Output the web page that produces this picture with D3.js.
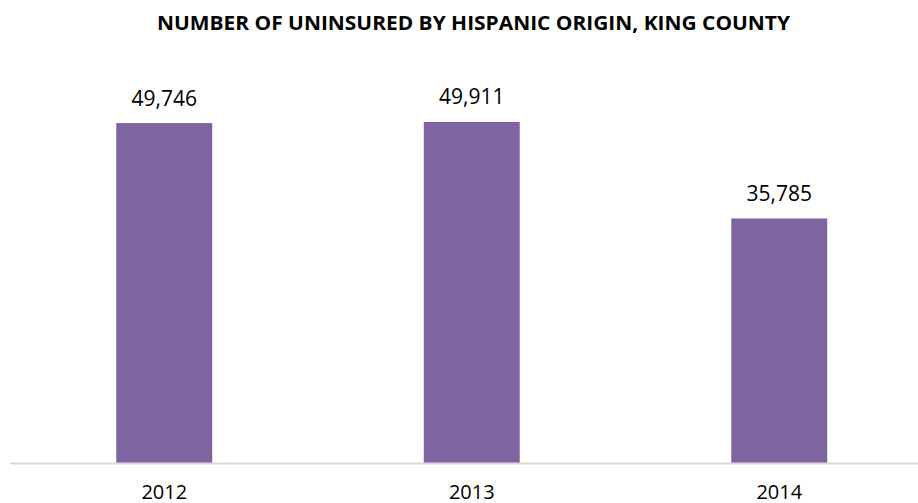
<!DOCTYPE html>
<html lang="en">
<head>
<meta charset="UTF-8">
<title>Uninsured by Hispanic origin</title>
<script src="https://cdnjs.cloudflare.com/ajax/libs/d3/7.8.5/d3.min.js"></script>
<style>
  body { margin: 0; background: #fff; }
</style>
</head>
<body>
<svg id="chart"></svg>
<script>
var years = ["2012", "2013", "2014"]
var uninsured = [49746, 49911, 35785]

var W = 918, H = 503
var baseY = 463
var font = "'Open Sans', sans-serif"

var svg = d3.select("#chart")
  .attr("width", W)
  .attr("height", H)

var x = d3.scaleBand()
  .domain(years)
  .range([10.5, 933])
  .paddingInner(0.688)
  .paddingOuter(0.344)

var y = d3.scaleLinear()
  .domain([0, 60000])
  .range([baseY, baseY - 410])

// title spans roughly x 157..790 in the reference
svg.append("text")
  .attr("x", 473.5)
  .attr("y", 29.5)
  .attr("text-anchor", "middle")
  .attr("font-family", font)
  .attr("font-weight", "bold")
  .attr("font-size", "19.5px")
  .attr("fill", "#000")
  .attr("textLength", 633)
  .attr("lengthAdjust", "spacingAndGlyphs")
  .text("NUMBER OF UNINSURED BY HISPANIC ORIGIN, KING COUNTY")

svg.selectAll("rect.bar")
  .data(years).enter()
  .append("rect")
  .attr("class", "bar")
  .attr("x", function(d) { return x(d) })
  .attr("width", x.bandwidth())
  .attr("y", function(d, i) { return y(uninsured[i]) })
  .attr("height", function(d, i) { return baseY - y(uninsured[i]) })
  .attr("fill", "#8064a2")

svg.append("line")
  .attr("x1", 10)
  .attr("x2", W)
  .attr("y1", baseY + 0.5)
  .attr("y2", baseY + 0.5)
  .attr("stroke", "#d9d9d9")
  .attr("stroke-width", 2)

svg.selectAll("text.val")
  .data(years).enter()
  .append("text")
  .attr("class", "val")
  .attr("x", function(d) { return x(d) + x.bandwidth() / 2 })
  .attr("y", function(d, i) { return y(uninsured[i]) - 17.5 })
  .attr("text-anchor", "middle")
  .attr("font-family", font)
  .attr("font-size", "21px")
  .attr("fill", "#000")
  .text(function(d, i) { return d3.format(",")(uninsured[i]) })

svg.selectAll("text.cat")
  .data(years).enter()
  .append("text")
  .attr("class", "cat")
  .attr("x", function(d) { return x(d) + x.bandwidth() / 2 })
  .attr("y", 499)
  .attr("text-anchor", "middle")
  .attr("font-family", font)
  .attr("font-size", "20px")
  .attr("fill", "#000")
  .text(function(d) { return d })
</script>
</body>
</html>
